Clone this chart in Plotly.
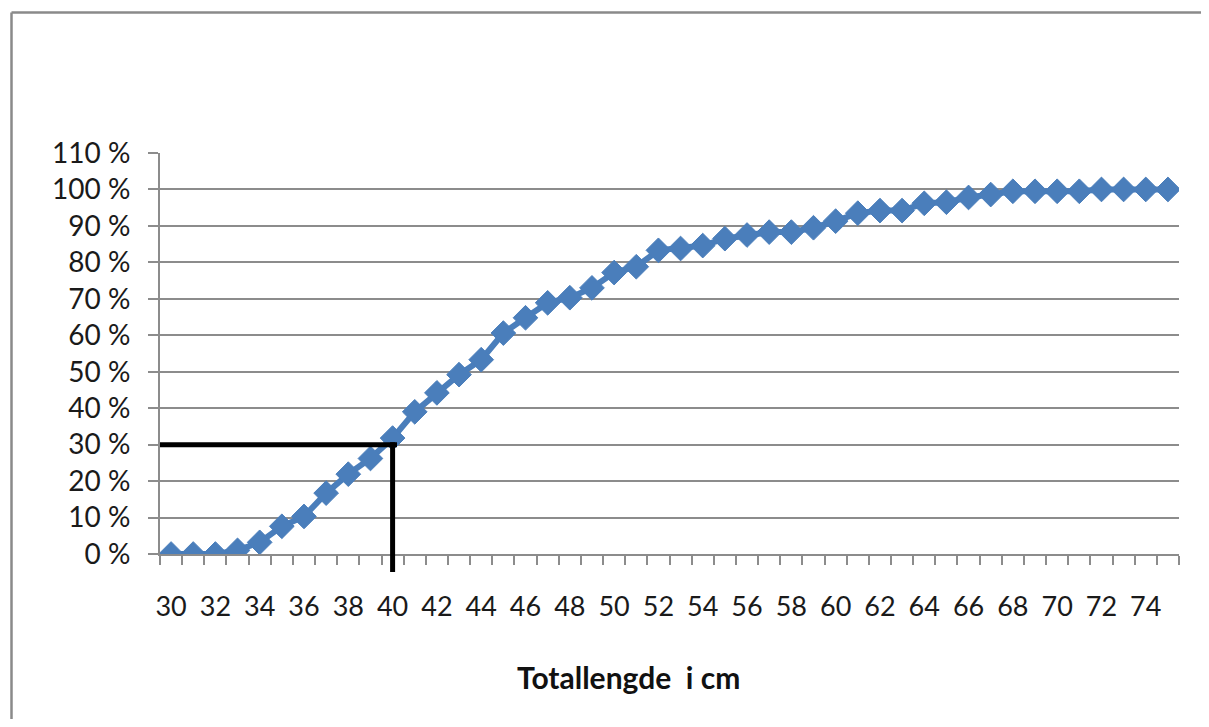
import plotly.graph_objects as go

# Data: total length (cm) and cumulative share
lengths = [30, 31, 32, 33, 34, 35, 36, 37, 38, 39,
           40, 41, 42, 43, 44, 45, 46, 47, 48, 49,
           50, 51, 52, 53, 54, 55, 56, 57, 58, 59,
           60, 61, 62, 63, 64, 65, 66, 67, 68, 69,
           70, 71, 72, 73, 74, 75]
cum_pct = [0.0, 0.0, 0.0, 1.0, 3.2, 7.6, 10.3, 16.7, 21.9, 26.2,
           31.8, 39.0, 44.2, 49.2, 53.3, 60.6, 64.8, 68.9, 70.3, 73.0,
           77.2, 78.8, 83.3, 83.8, 84.6, 86.5, 87.5, 88.3, 88.3, 89.5,
           91.3, 93.5, 94.2, 94.2, 96.2, 96.5, 97.8, 98.6, 99.5, 99.5,
           99.5, 99.5, 100.0, 100.0, 100.0, 100.0]

x_tick_vals = [30, 32, 34, 36, 38, 40, 42, 44, 46, 48, 50, 52, 54, 56, 58,
               60, 62, 64, 66, 68, 70, 72, 74]
x_tick_text = [str(v) for v in x_tick_vals]
y_tick_vals = [0, 10, 20, 30, 40, 50, 60, 70, 80, 90, 100, 110]
y_tick_text = ["0 %", "10 %", "20 %", "30 %", "40 %", "50 %", "60 %",
               "70 %", "80 %", "90 %", "100 %", "110 %"]

x_title = "Totallengde  i cm"
ref_length = 40
ref_pct = 30

BLUE = "#4a7ebb"
GRID = "#8c8c8c"
FONT = "Lato"

# The page body adds an 8 px margin; keep the figure inside the window
OFF = 8
W, H = 1209 - 2 * OFF, 727 - 2 * OFF
PL, PT, PR, PB = 160, 153, 1179, 554  # plot area in window pixels
pw, ph = PR - PL, PB - PT

fig = go.Figure()
fig.add_trace(go.Scatter(
    x=lengths, y=cum_pct, mode="lines+markers",
    line=dict(color=BLUE, width=6),
    marker=dict(symbol="diamond", size=19, color=BLUE,
                line=dict(color=BLUE, width=1)),
    showlegend=False, hoverinfo="x+y",
))

x_lo, x_hi = lengths[0] - 0.5, lengths[-1] + 0.5
y_lo, y_hi = 0, 110

fig.update_layout(
    width=W, height=H,
    margin=dict(l=PL - OFF, r=OFF + W - PR, t=PT - OFF, b=OFF + H - PB),
    paper_bgcolor="white", plot_bgcolor="white",
    font=dict(family=FONT, size=27, color="#1a1a1a"),
    xaxis=dict(
        range=[x_lo, x_hi], tickmode="array",
        tickvals=x_tick_vals, ticktext=x_tick_text,
        ticks="", showgrid=False, zeroline=False,
        showline=True, linecolor=GRID, linewidth=2,
        ticklabelstandoff=28,
        minor=dict(ticks="outside", tick0=x_lo, dtick=1, ticklen=9,
                   tickwidth=2, tickcolor=GRID, showgrid=False),
    ),
    yaxis=dict(
        range=[y_lo, y_hi], tickmode="array",
        tickvals=y_tick_vals, ticktext=y_tick_text,
        ticks="outside", ticklen=10, tickwidth=2, tickcolor=GRID,
        showgrid=True, gridcolor=GRID, gridwidth=2,
        zeroline=False, showline=True, linecolor=GRID, linewidth=2,
        ticklabelstandoff=12, tickfont=dict(size=28),
    ),
)

# Axis title as annotation (offset left of centre as in the original)
fig.add_annotation(
    text="<b>" + x_title + "</b>", xref="paper", yref="paper",
    x=(628 - PL) / pw, y=(PB - 677) / ph, xanchor="center", yanchor="middle",
    showarrow=False, font=dict(family=FONT, size=30, color="#111"),
)

# Reference lines (30 % at 40 cm)
fig.add_shape(type="line", xref="x", yref="y",
              x0=x_lo, x1=ref_length + 0.2, y0=ref_pct, y1=ref_pct,
              line=dict(color="black", width=5), layer="above")
fig.add_shape(type="line", xref="x", yref="paper",
              x0=ref_length, x1=ref_length,
              y0=ref_pct / (y_hi - y_lo) + 0.006, y1=-(572 - PB) / ph,
              line=dict(color="black", width=5), layer="above")

# Outer chart border (left and top edges visible)
bx = (11.5 - PL) / pw
by = (PB - 12.5) / ph
bx_end = (OFF + W - PL) / pw
fig.add_shape(type="line", xref="paper", yref="paper",
              x0=bx, x1=bx, y0=-(OFF + H - PB) / ph, y1=by,
              line=dict(color="#8a8a8a", width=2.5))
fig.add_shape(type="line", xref="paper", yref="paper",
              x0=bx, x1=bx_end, y0=by, y1=by,
              line=dict(color="#8a8a8a", width=2.5))

fig.write_html("out.html", config={"displayModeBar": False})
